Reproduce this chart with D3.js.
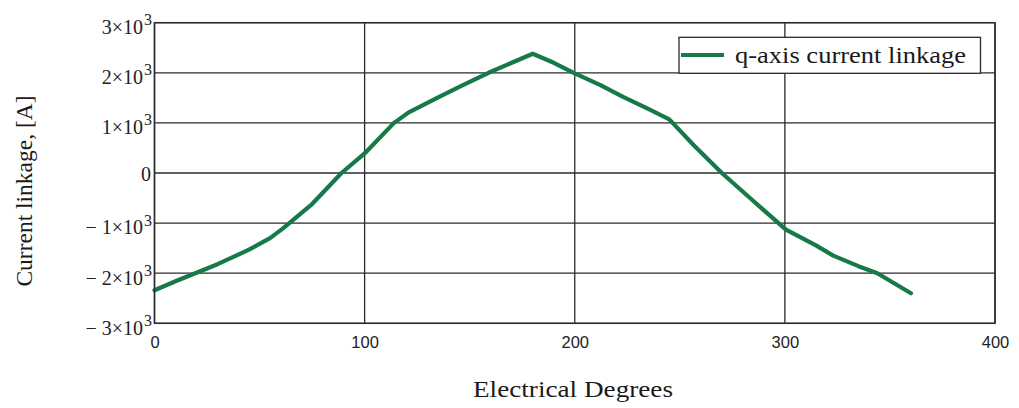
<!DOCTYPE html>
<html>
<head>
<meta charset="utf-8">
<script src="https://cdn.jsdelivr.net/npm/d3@7"></script>
<style>
  html, body { margin: 0; padding: 0; background: #fff; }
  svg { display: block; }
</style>
</head>
<body>
<svg id="chart" width="1019" height="408"></svg>
<script>
// Electrical angle (deg) and q-axis current linkage (A)
const degrees = [0, 10, 20, 30, 45, 55, 61, 75, 89, 100, 114, 121, 135, 147, 159, 170, 180,
                 190, 200, 212, 223, 235, 245, 257, 270, 285, 297, 300.5, 315, 323, 335, 344, 352, 360];
const linkage = [-2340, -2160, -1990, -1820, -1530, -1300, -1110, -620, 0, 390, 1000, 1210, 1510, 1760, 2000, 2200, 2380,
                 2200, 1990, 1760, 1520, 1280, 1070, 540, 0, -560, -1000, -1130, -1450, -1650, -1860, -2000, -2200, -2400];
const xTicks = [0, 100, 200, 300, 400];
const yTicks = [-3000, -2000, -1000, 0, 1000, 2000, 3000];
const seriesName = "q-axis current linkage";
const xTitle = "Electrical Degrees";
const yTitle = "Current linkage, [A]";

const svg = d3.select("#chart");
const plotL = 154.5, plotR = 995, plotT = 22.7, plotB = 323.3;
const x = d3.scaleLinear().domain([0, 400]).range([plotL, plotR]);
const y = d3.scaleLinear().domain([-3000, 3000]).range([plotB, plotT]);

const gridColor = "#2b2b2b";
const lineColor = "#167a48";
const serif = "'Liberation Serif', 'Times New Roman', serif";
const sans = "'Liberation Sans', Arial, sans-serif";

// grid
const grid = svg.append("g");
grid.selectAll("line.h").data(yTicks).join("line")
  .attr("x1", plotL).attr("x2", plotR)
  .attr("y1", d => y(d)).attr("y2", d => y(d))
  .attr("stroke", gridColor).attr("stroke-width", 1.3);
grid.selectAll("line.v").data(xTicks).join("line")
  .attr("y1", plotT).attr("y2", plotB)
  .attr("x1", d => x(d)).attr("x2", d => x(d))
  .attr("stroke", gridColor).attr("stroke-width", 1.3);

// x axis labels
const xAxis = d3.axisBottom(x).tickValues(xTicks).tickSize(0).tickPadding(0).tickFormat(d3.format("d"));
const gx = svg.append("g").attr("transform", `translate(0,${plotB + 13})`).call(xAxis);
gx.select(".domain").remove();
gx.selectAll("text").attr("font-family", sans).attr("font-size", 16.5).attr("fill", "#222");

// y axis labels as a×10³
const gy = svg.append("g");
yTicks.forEach(v => {
  const t = gy.append("text")
    .attr("x", 143).attr("y", y(v) + 11.3)
    .attr("text-anchor", "end")
    .attr("font-family", serif).attr("font-size", 20).attr("fill", "#222");
  if (v === 0) {
    t.attr("x", 151).attr("y", y(v) + 8).text("0");
  } else {
    const m = Math.abs(v) / 1000;
    t.text((v < 0 ? "\u2212 " : "") + m + "\u00d710");
    gy.append("text")
      .attr("x", 144).attr("y", y(v) + 2.5)
      .attr("font-family", serif).attr("font-size", 16).attr("fill", "#222")
      .text("3");
  }
});

// series line
const line = d3.line().x((d, i) => x(degrees[i])).y(d => y(d));
svg.append("path")
  .datum(linkage)
  .attr("d", line)
  .attr("fill", "none")
  .attr("stroke", lineColor)
  .attr("stroke-width", 4.2)
  .attr("stroke-linejoin", "round")
  .attr("stroke-linecap", "round");

// plot frame
svg.append("rect")
  .attr("x", plotL).attr("y", plotT)
  .attr("width", plotR - plotL).attr("height", plotB - plotT)
  .attr("fill", "none").attr("stroke", gridColor).attr("stroke-width", 1.5);

// legend
const lg = svg.append("g");
lg.append("rect")
  .attr("x", 679).attr("y", 37.3).attr("width", 301.5).attr("height", 36)
  .attr("fill", "#fff").attr("stroke", gridColor).attr("stroke-width", 1.3);
lg.append("line")
  .attr("x1", 681).attr("x2", 724).attr("y1", 55).attr("y2", 55)
  .attr("stroke", lineColor).attr("stroke-width", 4.2);
lg.append("text")
  .attr("x", 735).attr("y", 63)
  .attr("font-family", serif).attr("font-size", 24).attr("fill", "#1a1a1a")
  .attr("textLength", 231).attr("lengthAdjust", "spacingAndGlyphs")
  .text(seriesName);

// axis titles
svg.append("text")
  .attr("x", 573).attr("y", 397)
  .attr("text-anchor", "middle")
  .attr("font-family", serif).attr("font-size", 23).attr("fill", "#1a1a1a")
  .attr("textLength", 200).attr("lengthAdjust", "spacingAndGlyphs")
  .text(xTitle);
svg.append("text")
  .attr("transform", "translate(32,191) rotate(-90)")
  .attr("text-anchor", "middle")
  .attr("font-family", serif).attr("font-size", 23.5).attr("fill", "#1a1a1a")
  .text(yTitle);
</script>
</body>
</html>
